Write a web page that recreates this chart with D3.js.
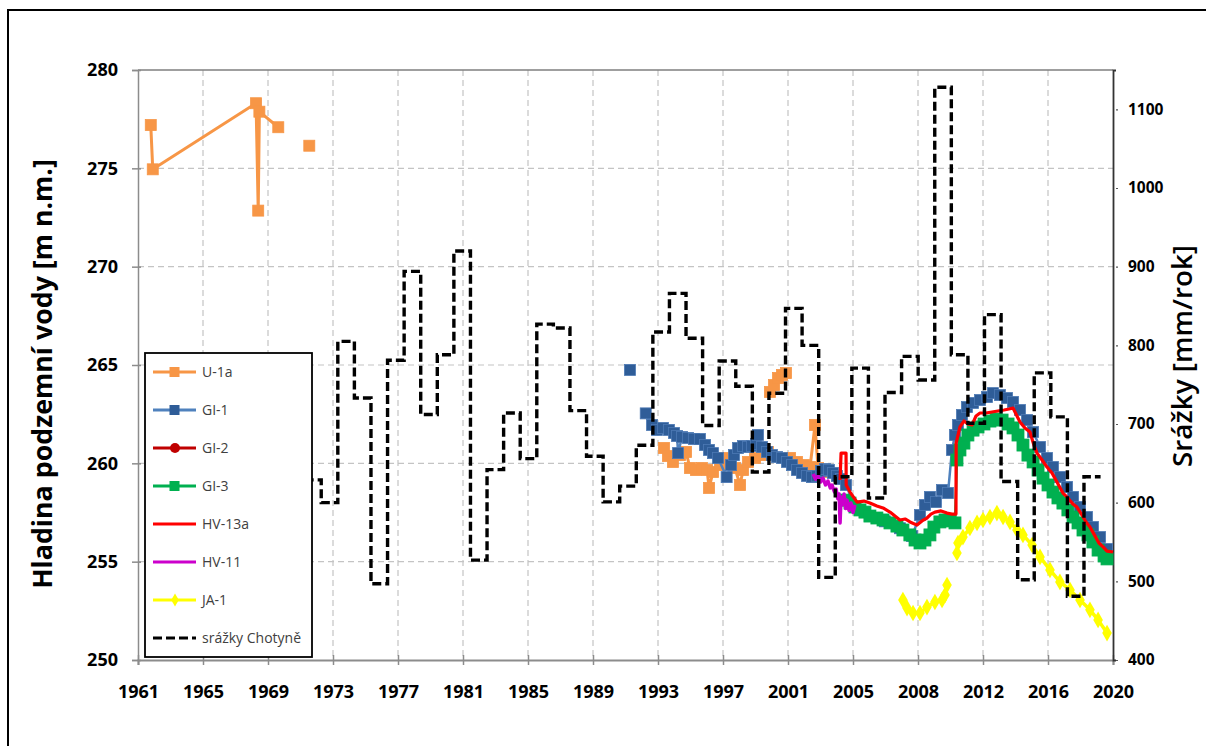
<!DOCTYPE html>
<html><head><meta charset="utf-8">
<script src="https://cdn.jsdelivr.net/npm/d3@7/dist/d3.min.js"></script>
<style>
body{margin:0;background:#fff;}
svg{display:block;}
text{font-family:"Open Sans","DejaVu Sans",sans-serif;}
</style>
</head><body>
<svg id="chart" width="1206" height="746"></svg>
<script>
// ---------------- DATA ----------------
const xTickLabels = ["1961","1965","1969","1973","1977","1981","1985","1989","1993","1997","2001","2005","2008","2012","2016","2020"];
const yLeftTicks = [250,255,260,265,270,275,280];
const yRightTicks = [400,500,600,700,800,900,1000,1100];

// annual precipitation (Chotyně), mm/year
const precipYears = [1972,1973,1974,1975,1976,1977,1978,1979,1980,1981,1982,1983,1984,1985,1986,1987,1988,1989,1990,1991,1992,1993,1994,1995,1996,1997,1998,1999,2000,2001,2002,2003,2004,2005,2006,2007,2008,2009,2010,2011,2012,2013,2014,2015,2016,2017,2018,2019];
const precipValues = [629,600,805,733,497,781,894,712,788,920,527,642,714,656,827,822,717,659,601,621,673,817,866,809,698,780,748,639,739,847,800,505,633,771,606,740,786,756,1128,788,701,839,627,502,765,709,481,633];

// groundwater levels [decimal year, m a.s.l.]; null = gap
const seriesU1a = [[1962.72,277.2],[1962.84,274.95],[1969.07,278.31],[1969.2,272.85],[1969.27,277.88],[1970.41,277.09],null,
  [1972.28,276.15],null,
  [1993.67,260.78],[1993.91,260.37],[1994.21,260.07],[1994.64,260.42],[1995.0,260.58],[1995.24,259.76],[1995.6,259.66],[1995.96,259.76],[1996.27,259.66],[1996.39,258.75],[1996.63,259.56],[1997.05,259.91],[1997.35,260.27],[1997.65,260.07],[1997.95,259.76],[1998.26,258.9],[1998.44,259.66],[1998.74,260.07],[1999.16,260.27],[1999.58,260.42],[1999.94,260.58],null,
  [2000.06,263.63],[2000.31,263.98],[2000.55,264.34],[2000.79,264.49],[2001.03,264.59],null,
  [2001.27,260.27],[2001.69,260.07],[2002.11,259.91],[2002.48,259.81],[2002.78,261.95],[2002.96,259.76],[2003.32,259.56]];

const seriesGI1 = [[1991.62,264.75],null,
  [1992.57,262.54],[1992.95,261.95],[1993.25,261.7],[1993.61,261.8],[1993.97,261.7],[1994.28,261.54],[1994.46,261.39],[1994.52,260.52],[1994.76,261.34],[1995.12,261.29],[1995.48,261.24],[1995.84,261.24],[1996.15,260.93],[1996.39,260.68],[1996.63,260.52],[1996.93,260.27],[1997.45,259.3],[1997.71,259.91],[1997.89,260.42],[1998.14,260.78],[1998.44,260.88],[1998.74,260.83],[1998.98,260.88],[1999.22,260.98],[1999.34,261.44],[1999.58,260.83],[1999.88,260.58],[2000.18,260.42],[2000.49,260.32],[2000.79,260.27],[2001.09,260.07],[2001.39,259.91],[2001.69,259.66],[2002.0,259.51],[2002.3,259.36],[2002.6,259.3],[2002.9,259.36],[2003.14,259.61],[2003.38,259.71],[2003.62,259.66],[2003.86,259.51],[2004.1,259.36],[2004.35,259.2],[2004.65,258.9],
  [2005.19,257.78],[2006.09,257.32],[2006.99,257.05],[2007.9,256.7],[2008.63,256.3],[2009.11,257.37],[2009.41,257.88],[2009.71,258.29],[2010.07,258.03],[2010.44,258.64],[2010.8,258.49],
  [2011.04,260.68],[2011.22,261.44],[2011.4,261.95],[2011.64,262.46],[2011.94,262.86],[2012.31,263.07],[2012.73,263.22],[2013.15,263.37],[2013.51,263.57],[2013.93,263.47],[2014.36,263.32],[2014.72,263.12],[2015.14,262.71],[2015.56,262.2],[2015.93,261.59],[2016.35,260.83],[2016.77,260.27],[2017.13,259.81],[2017.55,259.3],[2017.98,258.8],[2018.34,258.29],[2018.76,257.78],[2019.18,257.27],[2019.54,256.76],[2019.97,256.25],[2020.39,255.64]];

const seriesGI2 = [];

const seriesGI3 = [[2004.59,258.13],[2004.89,257.98],[2005.19,257.78],[2005.49,257.63],[2005.79,257.52],[2006.09,257.32],[2006.51,257.22],[2006.88,257.12],[2007.3,256.97],[2007.72,256.81],[2008.08,256.61],[2008.5,256.36],[2008.81,256.1],[2009.11,255.95],[2009.41,256.1],[2009.71,256.36],[2009.95,256.76],[2010.31,257.02],[2010.62,257.12],[2010.92,257.07],[2011.22,256.97],
  [2011.34,260.17],[2011.52,260.68],[2011.76,261.03],[2012.0,261.44],[2012.31,261.69],[2012.61,261.85],[2012.97,262.0],[2013.33,262.15],[2013.7,262.25],[2014.06,262.2],[2014.42,262.0],[2014.72,261.8],[2015.02,261.44],[2015.32,260.93],[2015.62,260.42],[2015.93,260.07],[2016.23,259.66],[2016.53,259.25],[2016.83,258.9],[2017.13,258.54],[2017.43,258.24],[2017.73,257.98],[2018.03,257.63],[2018.34,257.27],[2018.64,256.97],[2018.94,256.61],[2019.24,256.36],[2019.54,256.0],[2019.85,255.59],[2020.21,255.29],[2020.39,255.14]];

const seriesHV13a = [[2004.29,259.15],[2004.35,260.52],[2004.65,260.52],[2004.66,258.9],[2004.89,258.54],[2005.31,258.03],[2005.73,258.08],[2006.09,257.98],[2006.51,257.83],[2006.88,257.73],[2007.3,257.52],[2007.6,257.32],[2007.9,257.12],[2008.21,257.17],[2008.51,257.02],[2008.93,256.86],[2009.23,257.07],[2009.53,257.22],[2009.77,257.42],[2010.01,257.52],[2010.38,257.58],[2010.74,257.47],[2011.04,257.42],[2011.28,257.42],
  [2011.29,261.03],[2011.52,261.85],[2011.76,262.15],[2012.0,262.0],[2012.25,261.95],[2012.49,262.41],[2012.73,262.56],[2013.09,262.56],[2013.45,262.61],[2013.81,262.66],[2014.18,262.71],[2014.48,262.76],[2014.72,262.81],[2014.9,262.51],[2015.14,262.1],[2015.44,261.8],[2015.74,261.59],[2015.98,260.93],[2016.17,260.52],[2016.47,260.17],[2016.77,259.81],[2017.07,259.51],[2017.37,259.05],[2017.73,258.49],[2018.03,258.24],[2018.33,257.93],[2018.57,257.78],[2018.88,257.37],[2019.12,257.02],[2019.36,256.76],[2019.66,256.31],[2019.9,255.95],[2020.15,255.75],[2020.39,255.54],[2020.75,255.49]];

const seriesHV11 = [[2002.66,259.46],[2002.81,259.2],[2002.96,259.36],[2003.11,259.05],[2003.26,259.25],[2003.41,258.9],[2003.56,259.1],[2003.7,258.75],[2003.8,258.9],[2003.95,258.55],[2004.05,258.69],[2004.15,258.2],[2004.23,258.44],[2004.29,256.97],[2004.35,258.29],[2004.45,257.9],[2004.53,258.44],[2004.63,257.7],[2004.71,258.13],[2004.83,257.6],[2004.95,257.98],[2005.07,257.5],[2005.19,257.88]];

const seriesJA1 = [[2008.08,253.05],[2008.33,252.64],[2008.69,252.39],[2009.11,252.39],[2009.53,252.69],[2010.01,252.95],[2010.44,253.05],[2010.62,253.31],[2010.74,253.81],null,
  [2011.34,255.44],[2011.4,255.95],[2011.7,256.25],[2012.12,256.71],[2012.55,256.97],[2012.91,257.12],[2013.33,257.27],[2013.75,257.47],[2014.12,257.27],[2014.54,257.02],[2014.96,256.61],[2015.32,256.36],[2015.87,255.85],[2016.35,255.24],[2016.95,254.58],[2017.55,253.97],[2018.16,253.56],[2018.76,253.05],[2019.36,252.55],[2019.85,252.04],[2020.39,251.37]];

const legendNames = ["U-1a","GI-1","GI-2","GI-3","HV-13a","HV-11","JA-1","srážky Chotyně"];

// ---------------- CHART ----------------
const svg = d3.select("#chart");
const L = 138, R = 1113, T = 70, B = 660;
const xDomain = [1961.95, 2020.75];
const x = d3.scaleLinear().domain(xDomain).range([L, R]);
const yL = d3.scaleLinear().domain([250, 280]).range([B, T]);
const yR = d3.scaleLinear().domain([400, 1150]).range([B, T]);
const xTicks = xTickLabels.map((_, i) => xDomain[0] + i * (xDomain[1] - xDomain[0]) / (xTickLabels.length - 1));

// outer frame
svg.append("rect").attr("x", 8).attr("y", 10).attr("width", 1300).attr("height", 800)
  .attr("fill", "none").attr("stroke", "#000").attr("stroke-width", 2);

// gridlines
const grid = svg.append("g");
grid.selectAll("line.h").data(yLeftTicks.filter(v => v > 250 && v < 280)).join("line")
  .attr("x1", L).attr("x2", R).attr("y1", d => yL(d)).attr("y2", d => yL(d))
  .attr("stroke", "#C4C4C4").attr("stroke-width", 1.2).attr("stroke-dasharray", "6,4");
grid.selectAll("line.v").data(xTicks.slice(1, -1)).join("line")
  .attr("y1", T).attr("y2", B).attr("x1", d => x(d)).attr("x2", d => x(d))
  .attr("stroke", "#C4C4C4").attr("stroke-width", 1.2).attr("stroke-dasharray", "6,4");

// top border
svg.append("line").attr("x1", L).attr("x2", R).attr("y1", T).attr("y2", T)
  .attr("stroke", "#7F7F7F").attr("stroke-width", 1.5);

// axes
const gx = svg.append("g").attr("transform", `translate(0,${B})`)
  .call(d3.axisBottom(x).tickValues(xTicks).tickFormat((d, i) => xTickLabels[i]).tickSize(5).tickPadding(20));
gx.select(".domain").attr("stroke", "#8C8C8C").attr("stroke-width", 2);
gx.selectAll(".tick line").attr("y1", -5).attr("y2", 5).attr("stroke", "#8C8C8C").attr("stroke-width", 1.5);
gx.selectAll(".tick text").attr("font-size", 18).attr("font-weight", "bold").attr("fill", "#000")
  .attr("font-family", "'Open Sans',sans-serif");

const gyl = svg.append("g").attr("transform", `translate(${L},0)`)
  .call(d3.axisLeft(yL).tickValues(yLeftTicks).tickFormat(d3.format("d")).tickSize(6).tickPadding(14));
gyl.select(".domain").attr("stroke", "#8C8C8C").attr("stroke-width", 1.5);
gyl.selectAll(".tick line").attr("x1", -6).attr("x2", 3).attr("stroke", "#8C8C8C").attr("stroke-width", 1.5);
gyl.selectAll(".tick text").attr("font-size", 18).attr("font-weight", "bold").attr("fill", "#000")
  .attr("font-family", "'Open Sans',sans-serif");

const gyr = svg.append("g").attr("transform", `translate(${R},0)`)
  .call(d3.axisRight(yR).tickValues(yRightTicks).tickFormat(d3.format("d")).tickSize(3).tickPadding(12));
gyr.select(".domain").attr("stroke", "#333").attr("stroke-width", 1.8);
gyr.selectAll(".tick line").attr("stroke", "#555").attr("stroke-width", 1.2).attr("x1", 3).attr("x2", 5);
gyr.selectAll(".tick text").attr("font-size", 15.5).attr("font-weight", "bold").attr("fill", "#000")
  .attr("font-family", "'Open Sans',sans-serif");

// series
const line = d3.line().defined(d => d !== null).x(d => x(d[0])).y(d => yL(d[1]));
const plot = svg.append("g");

function square(g, data, s, fill, stroke) {
  g.selectAll(null).data(data.filter(d => d)).join("rect")
    .attr("x", d => x(d[0]) - s / 2).attr("y", d => yL(d[1]) - s / 2)
    .attr("width", s).attr("height", s).attr("fill", fill).attr("stroke", stroke).attr("stroke-width", 0.8);
}
function drawLine(g, data, color, w) {
  g.append("path").datum(data).attr("d", line).attr("fill", "none")
    .attr("stroke", color).attr("stroke-width", w).attr("stroke-linejoin", "round");
}

const gU = plot.append("g");
drawLine(gU, seriesU1a, "#F79646", 3);
square(gU, seriesU1a, 11, "#F79646", "#F79646");

const gG1 = plot.append("g");
drawLine(gG1, seriesGI1, "#4F81BD", 2.5);
square(gG1, seriesGI1, 11, "#2F5D98", "#4C79B4");

const gG2 = plot.append("g");
drawLine(gG2, seriesGI2, "#C00000", 3);

const gG3 = plot.append("g");
drawLine(gG3, seriesGI3, "#00B050", 2.5);
square(gG3, seriesGI3, 12, "#00B050", "#00B050");

const gH13 = plot.append("g");
drawLine(gH13, seriesHV13a, "#FF0000", 3.2);

const gH11 = plot.append("g");
drawLine(gH11, seriesHV11, "#CC00CC", 3.5);

const gJ = plot.append("g");
drawLine(gJ, seriesJA1, "#FFFF00", 3.5);
gJ.selectAll(null).data(seriesJA1.filter(d => d)).join("path")
  .attr("d", d3.symbol().type(d3.symbolDiamond).size(80))
  .attr("transform", d => `translate(${x(d[0])},${yL(d[1])})`)
  .attr("fill", "#FFFF00");

// precipitation step line (secondary axis)
const precipPts = precipYears.map((yr, i) => [yr, precipValues[i]]);
precipPts.push([precipYears[precipYears.length - 1] + 1, precipValues[precipValues.length - 1]]);
const stepLine = d3.line().curve(d3.curveStepAfter).x(d => x(d[0])).y(d => yR(d[1]));
plot.append("path").datum(precipPts).attr("d", stepLine).attr("fill", "none")
  .attr("stroke", "#000").attr("stroke-width", 3.4).attr("stroke-dasharray", "9,4");

// legend
const lg = svg.append("g");
lg.append("rect").attr("x", 145).attr("y", 353).attr("width", 167).attr("height", 304)
  .attr("fill", "#fff").attr("stroke", "#000").attr("stroke-width", 1.8);
const legendStyle = [
  {c: "#F79646", m: "sq", mc: "#F79646"},
  {c: "#4F81BD", m: "sq", mc: "#2F5D98"},
  {c: "#C00000", m: "ci", mc: "#C00000"},
  {c: "#00B050", m: "sq", mc: "#00B050"},
  {c: "#FF0000", m: null},
  {c: "#CC00CC", m: null},
  {c: "#FFFF00", m: "di", mc: "#FFFF00"},
  {c: "#000", m: null, dash: "9,4"}
];
legendNames.forEach((name, i) => {
  const yy = 372 + i * 38;
  const st = legendStyle[i];
  lg.append("line").attr("x1", 153).attr("x2", 196).attr("y1", yy).attr("y2", yy)
    .attr("stroke", st.c).attr("stroke-width", 3.2).attr("stroke-dasharray", st.dash || null);
  if (st.m === "sq") lg.append("rect").attr("x", 169.5).attr("y", yy - 5).attr("width", 10).attr("height", 10).attr("fill", st.mc);
  if (st.m === "ci") lg.append("circle").attr("cx", 175).attr("cy", yy).attr("r", 5).attr("fill", st.mc);
  if (st.m === "di") lg.append("path").attr("d", d3.symbol().type(d3.symbolDiamond).size(50)).attr("transform", `translate(175,${yy})`).attr("fill", st.mc);
  lg.append("text").attr("x", 202).attr("y", yy).attr("dy", "0.35em").attr("font-size", 14)
    .attr("fill", "#404040").text(name);
});

// axis titles
function fitText(sel, target) {
  const len = sel.node().getComputedTextLength();
  const fs = parseFloat(sel.attr("font-size"));
  sel.attr("font-size", fs * target / len);
}
const tl = svg.append("text").attr("transform", "translate(52,374) rotate(-90)").attr("text-anchor", "middle")
  .attr("font-size", 25).attr("font-weight", "bold").attr("fill", "#000").text("Hladina podzemní vody [m n.m.]");
fitText(tl, 430);
const tr = svg.append("text").attr("transform", "translate(1192,356) rotate(-90)").attr("text-anchor", "middle")
  .attr("font-size", 22).attr("font-weight", "600").attr("fill", "#000").text("Srážky [mm/rok]");
fitText(tr, 222);
</script>
</body></html>
